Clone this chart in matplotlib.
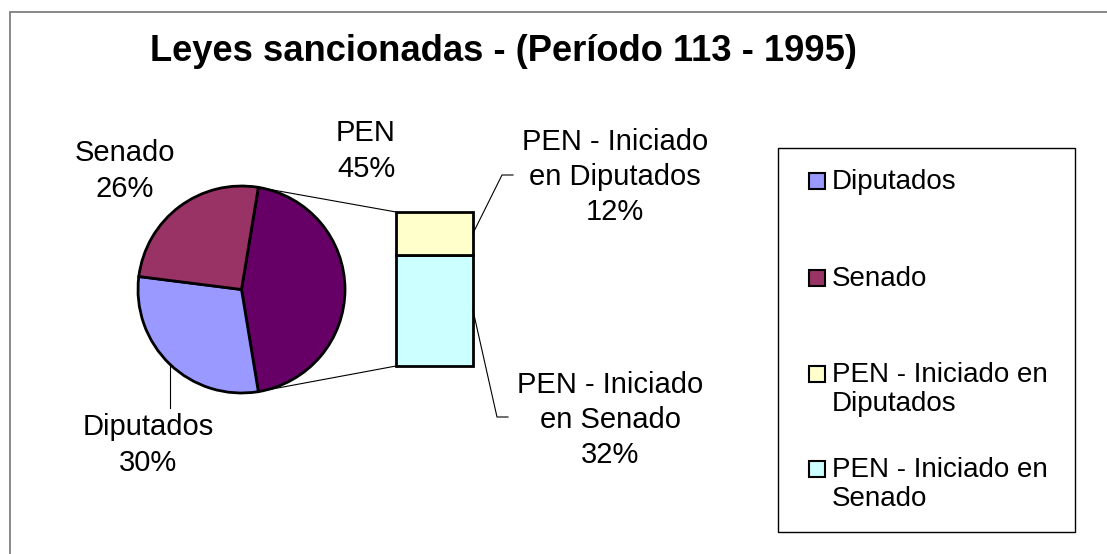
import numpy as np
import matplotlib
matplotlib.use('Agg')
import matplotlib.pyplot as plt
from matplotlib.patches import ConnectionPatch, Rectangle
from matplotlib.lines import Line2D
from matplotlib.transforms import IdentityTransform

plt.rcParams['font.family'] = ['Liberation Sans', 'DejaVu Sans']

# datos (porcentajes)
pie_labels = ['PEN', 'Diputados', 'Senado']
diputados = 29.6
senado = 25.6
bar_labels = ['PEN - Iniciado\nen Diputados', 'PEN - Iniciado\nen Senado']
pen_dip = 12.4
pen_sen = 32.4
legend_labels = ['Diputados', 'Senado', 'PEN - Iniciado en\nDiputados', 'PEN - Iniciado en\nSenado']

COLORS = {
    'Diputados': '#9999FF',
    'Senado': '#993366',
    'PEN': '#660066',
    'PEN_dip': '#FFFFCC',
    'PEN_sen': '#CCFFFF',
}

W, H = 1107, 554
def fx(x):
    return x / W
def fy(y):
    return 1 - y / H

fig = plt.figure(figsize=(W / 100, H / 100), dpi=100)
fig.patch.set_facecolor('white')

# borde del grafico (solo se ve arriba e izquierda)
fig.add_artist(Rectangle((fx(10), -0.1), 1.2, fy(12) + 0.1, transform=fig.transFigure,
                         fill=False, edgecolor='#808080', linewidth=1.3))

fig.text(fx(504), fy(61), 'Leyes sancionadas - (Período 113 - 1995)', ha='center', va='baseline',
         fontsize=26.2, fontweight='bold')

pen_total = pen_dip + pen_sen
total = diputados + senado + pen_total
pie_values = [pen_total, diputados, senado]
pie_colors = [COLORS['PEN'], COLORS['Diputados'], COLORS['Senado']]

# torta
r = 103.5
cx, cy = 241.5, 289.5
ax_pie = fig.add_axes([fx(cx - r), fy(cy + r), 2 * r / W, 2 * r / H])
start = pen_total / total * 360 / 2
wedges, _ = ax_pie.pie(pie_values, colors=pie_colors, startangle=start, counterclock=False,
                       radius=1, wedgeprops=dict(edgecolor='black', linewidth=2.0))
for w in wedges:
    w.set_clip_on(False)
ax_pie.set_xlim(-1, 1)
ax_pie.set_ylim(-1, 1)
ax_pie.axis('off')

# barra
ax_bar = fig.add_axes([fx(396), fy(366), 77 / W, 154 / H])
ax_bar.bar(0, pen_sen, width=1, color=COLORS['PEN_sen'], edgecolor='black', linewidth=2.0, clip_on=False)
ax_bar.bar(0, pen_dip, bottom=pen_sen, width=1, color=COLORS['PEN_dip'], edgecolor='black',
           linewidth=2.0, clip_on=False)
ax_bar.set_xlim(-0.5, 0.5)
ax_bar.set_ylim(0, pen_total)
ax_bar.axis('off')

# lineas de conexion torta -> barra
a1 = np.deg2rad(start)
a2 = np.deg2rad(start - pen_total / total * 360)
for (xa, ya), (xb, yb) in [((np.cos(a1), np.sin(a1)), (-0.5, pen_total)),
                           ((np.cos(a2), np.sin(a2)), (-0.5, 0))]:
    fig.add_artist(ConnectionPatch(xyA=(xa, ya), coordsA=ax_pie.transData, xyB=(xb, yb),
                                   coordsB=ax_bar.transData, color='black', linewidth=0.8))

def pct(v):
    return f'{round(100 * v / total):.0f}%'

lab_kw = dict(ha='center', va='center', fontsize=21, linespacing=1.32)
fig.text(fx(366), fy(151), f'{pie_labels[0]}\n{pct(pen_total)}', **lab_kw)
fig.text(fx(125), fy(171), f'{pie_labels[2]}\n{pct(senado)}', **lab_kw)
fig.text(fx(148), fy(445), f'{pie_labels[1]}\n{pct(diputados)}', **lab_kw)
fig.text(fx(615), fy(177), f'{bar_labels[0]}\n{pct(pen_dip)}', **lab_kw)
fig.text(fx(610), fy(420), f'{bar_labels[1]}\n{pct(pen_sen)}', **lab_kw)

# linea guia Diputados
mid = np.deg2rad(start - (pen_total + diputados / 2) / total * 360)
x0, y0 = ax_pie.transData.transform((np.cos(mid), np.sin(mid)))
fig.add_artist(Line2D([x0, x0], [y0, H - 408], transform=IdentityTransform(), color='black', linewidth=0.8))

# lineas guia de la barra
for yv, (ex, ey), end_x in [(pen_sen + pen_dip / 2, (502, 175), 513), (pen_sen / 2, (497, 417), 508)]:
    bx, by = ax_bar.transData.transform((0.5, yv))
    fig.add_artist(Line2D([bx, ex, end_x], [by, H - ey, H - ey], transform=IdentityTransform(),
                          color='black', linewidth=0.8))

# leyenda
fig.add_artist(Rectangle((fx(778), fy(532)), (1075 - 778) / W, (532 - 148) / H, transform=fig.transFigure,
                         fill=True, facecolor='white', edgecolor='black', linewidth=1.0))
leg_colors = [COLORS['Diputados'], COLORS['Senado'], COLORS['PEN_dip'], COLORS['PEN_sen']]
leg_base = [189, 286, 382, 477]
for lab, col, base in zip(legend_labels, leg_colors, leg_base):
    fig.add_artist(Rectangle((fx(809), fy(base)), 16 / W, 16 / H, transform=fig.transFigure,
                             facecolor=col, edgecolor='black', linewidth=1.5))
    fig.text(fx(832), fy(base - 20), lab, ha='left', va='top', fontsize=20, linespacing=1.17)

fig.savefig('out.png', dpi=100, facecolor='white')
